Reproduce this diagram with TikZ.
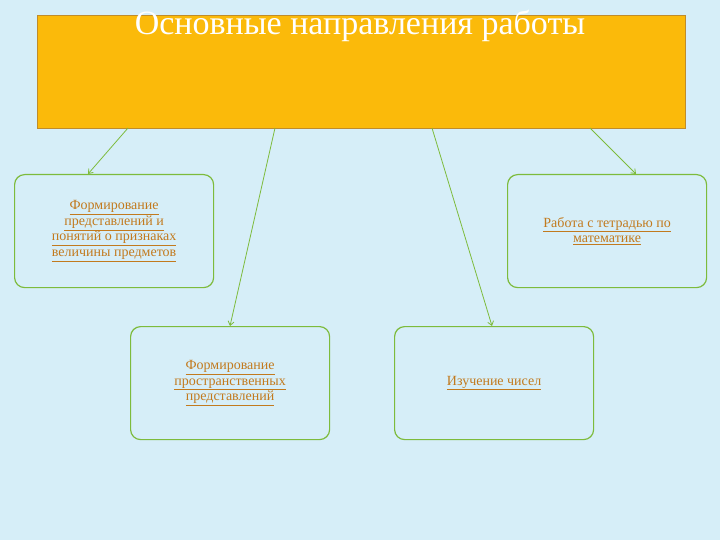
\documentclass[tikz,border=0pt]{standalone}
\usepackage{fontspec}
\setmainfont{Liberation Serif}
\usetikzlibrary{arrows.meta}
\definecolor{bg}{HTML}{D6EEF8}
\definecolor{topfill}{HTML}{FBBA0A}
\definecolor{topline}{HTML}{C08C2A}
\definecolor{grn}{HTML}{7DBB3C}
\definecolor{txt}{HTML}{C27A1E}
\newcommand{\ul}[1]{\underline{#1}}
\tikzset{
  x=1pt,y=1pt,
  box/.style={draw=grn, line width=1.2pt, rounded corners=10pt, fill=bg,
    minimum width=199pt, minimum height=113pt, align=center, text=txt,
    font=\fontsize{14}{15.5}\selectfont, anchor=north west, inner sep=2pt},
  conn/.style={draw=grn, line width=0.8pt, -{Straight Barb[length=4pt,width=6pt]}}
}
\begin{document}
\begin{tikzpicture}
\useasboundingbox (0,0) rectangle (720,-540);
\fill[bg] (0,0) rectangle (720,-540);
\node[draw=topline, line width=1pt, fill=topfill, minimum width=648pt, minimum height=113pt, anchor=north west, inner sep=0pt] (top) at (37,-15) {};
\node[text=white, font=\fontsize{34}{36}\selectfont, anchor=center] (title) at (360,-26) {Основные направления работы};
\node[box] (b1) at (14,-174) {\ul{Формирование}\\\ul{представлений и}\\\ul{понятий о признаках}\\\ul{величины предметов}};
\node[box] (b2) at (507,-174) {\ul{Работа с тетрадью по}\\\ul{математике}};
\node[box] (b3) at (130,-326) {\ul{Формирование}\\\ul{пространственных}\\\ul{представлений}};
\node[box] (b4) at (394,-326) {\ul{Изучение чисел}};
\coordinate (s1) at (128,-128);
\coordinate (s2) at (275,-128);
\coordinate (s3) at (432,-128);
\coordinate (s4) at (590,-128);
\coordinate (e1) at (88,-174);
\coordinate (e2) at (230,-326);
\coordinate (e3) at (492,-326);
\coordinate (e4) at (636,-174);
\draw[conn] (s1) -- (e1);
\draw[conn] (s2) -- (e2);
\draw[conn] (s3) -- (e3);
\draw[conn] (s4) -- (e4);
\end{tikzpicture}
\end{document}
